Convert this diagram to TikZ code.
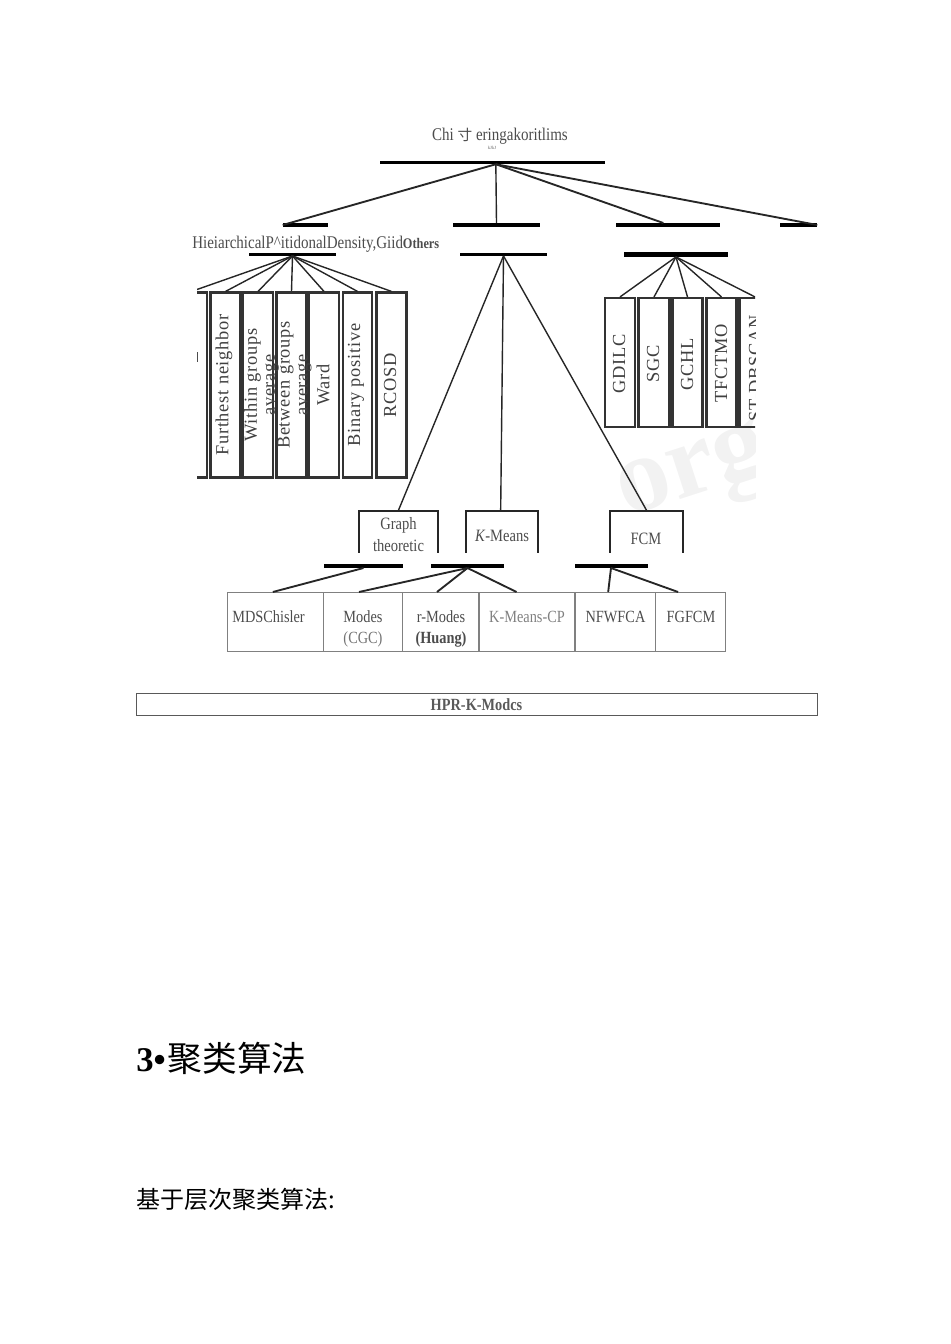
\documentclass[tikz,border=0pt]{standalone}
\usepackage{fontspec}
\setmainfont{Liberation Serif}
\newfontfamily\narrowfont[FakeStretch=0.84]{Liberation Serif}
\newfontfamily\leaffont[LetterSpace=4]{Liberation Serif}
\newfontfamily\cjkfont{Noto Sans CJK SC}
\usetikzlibrary{positioning}
\begin{document}
\begin{tikzpicture}[x=0.75pt,y=-0.75pt,
  bar/.style={fill=black,inner sep=0pt,minimum height=#1},
  bar/.default=2.2pt,
  wide/.style={minimum width=#1*0.75pt},
  tall/.style={minimum height=#1*0.75pt},
  link/.style={line width=1.05pt,color=black!85},
  lowlink/.style={line width=1.4pt,color=black!85},
  leafbox/.style={draw=black!80,line width=1.6pt,inner sep=0pt,tall=185},
  midbox/.style={draw=black!85,line width=1.2pt,inner sep=0pt,tall=80},
  leaftext/.style={rotate=90,font=\leaffont\fontsize{13.8}{13.5}\selectfont,text=black!75,align=center,inner sep=0pt},
  midtext/.style={font=\narrowfont\fontsize{13}{13}\selectfont,text=black!70,inner sep=0pt},
  cell/.style={draw=black!50,line width=0.5pt,inner sep=0pt,minimum height=44.5pt},
  celltext/.style={font=\narrowfont\fontsize{12.8}{13}\selectfont,text=black!70,inner sep=0pt,text height=9pt,text depth=3pt},
  rowtext/.style={font=\narrowfont\fontsize{13.4}{14}\selectfont,text=black!70,inner sep=0pt}]
\useasboundingbox (0,0) rectangle (950,1344);

% heading of the tree
\node[rowtext] (title) at (500,136) {Chi {\cjkfont\fontsize{11}{12}\selectfont 寸} eringakoritlims};
\node[font=\fontsize{3.5}{4}\selectfont,text=black!60,inner sep=0pt] (titlesub) at (492,148) {kJkJ};
\node[bar,wide=225] (algos) at (492.5,162.5) {};

% first row
\node[bar=2.6pt,wide=45] (hier) at (305.5,225) {};
\node[bar=2.6pt,wide=87] (part) at (496.5,225) {};
\node[bar=2.6pt,wide=104] (dens) at (668,225) {};
\node[bar=2.6pt,wide=37] (other) at (798.5,225) {};
\draw[lowlink] ([xshift=2.5pt]algos.south) -- (hier.west);
\draw[link] ([xshift=2.5pt]algos.south) -- (part.north);
\draw[lowlink] ([xshift=2.5pt]algos.south) -- ([xshift=-3.5pt]dens.north);
\draw[lowlink] ([xshift=2.5pt]algos.south) -- (other.east);
\node[rowtext,anchor=west] (rowlabel) at (192,244) {HieiarchicalP\^{}itidonalDensity,Giid{\bfseries\fontsize{11}{12}\selectfont Others}};

% part of the page cut out of the paper
\begin{scope}
\clip (197,252) rectangle (755,552);
\node[rotate=18,font=\bfseries\fontsize{80}{80}\selectfont,text=black!5,inner sep=0pt] (mark) at (695,478) {org};

\node[bar=1.8pt,wide=87] (hierb) at (292.5,254.5) {};
\node[bar=1.8pt,wide=87] (partb) at (503.5,254.5) {};
\node[bar=3.2pt,wide=104] (densb) at (676,254.5) {};

% hierarchical leaves
\node[leafbox,wide=31] (cut) at (191.5,385) {};
\node[leafbox,wide=30] (further) at (225.5,385) {};
\node[leafbox,wide=30] (within) at (258,385) {};
\node[leafbox,wide=30] (between) at (291.5,385) {};
\node[leafbox,wide=30] (ward) at (324,385) {};
\node[leafbox,wide=29] (binary) at (357.5,385) {};
\node[leafbox,wide=30] (rcosd) at (391.5,385) {};
\node[leaftext] (furthertext) at (224,385) {Furthest neighbor};
\node[leaftext] (withintext) at (261.5,385) {Within groups\\average};
\node[leaftext] (betweentext) at (294.5,385) {Between groups\\average};
\node[leaftext] (wardtext) at (323,385) {Ward};
\node[leaftext] (binarytext) at (356,385) {Binary positive};
\node[leaftext] (rcosdtext) at (390,385) {RCOSD};
\draw[thick,black!70] (197.5,352) -- (197.5,362);
\draw[link] (hierb.south) -- (cut.north);
\draw[link] (hierb.south) -- (further.north);
\draw[link] (hierb.south) -- (within.north);
\draw[link] (hierb.south) -- (between.north);
\draw[link] (hierb.south) -- (ward.north);
\draw[link] (hierb.south) -- (binary.north);
\draw[link] (hierb.south) -- (rcosd.north);

% density leaves
\node[leafbox,wide=30,tall=129] (gdilc) at (620,362.5) {};
\node[leafbox,wide=31,tall=129] (sgc) at (654,362.5) {};
\node[leafbox,wide=30,tall=129] (gchl) at (687.5,362.5) {};
\node[leafbox,wide=30,tall=129] (tfctmo) at (721.5,362.5) {};
\node[leafbox,wide=31,tall=129] (stdb) at (755,362.5) {};
\node[leaftext] (gdilctext) at (619,364) {GDILC};
\node[leaftext] (sgctext) at (653,364) {SGC};
\node[leaftext] (gchltext) at (687,364) {GCHL};
\node[leaftext] (tfctmotext) at (721,363) {TFCTMO};
\node[leaftext] (stdbtext) at (755,368) {ST-DBSCAN};
\draw[link] (densb.south) -- (gdilc.north);
\draw[link] (densb.south) -- (sgc.north);
\draw[link] (densb.south) -- (gchl.north);
\draw[link] (densb.south) -- (tfctmo.north);
\draw[link] (densb.south) -- (stdb.north);

% partitional children
\node[midbox,wide=79] (graph) at (398.5,551) {};
\node[midbox,wide=72] (kmeans) at (502,551) {};
\node[midbox,wide=73] (fcm) at (646.5,551) {};
\node[midtext,align=center] (graphtext) at (398.5,534.5) {Graph\\[3.5pt]theoretic};
\node[midtext] (kmeanstext) at (502,536) {\textit{K}-Means};
\node[midtext] (fcmtext) at (646,539) {FCM};
\draw[link] (partb.south) -- (graph.north);
\draw[link] (partb.south) -- ([xshift=-1pt]kmeans.north);
\draw[link] (partb.south) -- (fcm.north);
\end{scope}

% lower bars and table
\node[bar=2.6pt,wide=79] (graphb) at (363.5,566) {};
\node[bar=2.6pt,wide=73] (kmeansb) at (467.5,566) {};
\node[bar=2.6pt,wide=73] (fcmb) at (611,566) {};

\node[cell,wide=96,anchor=north west] (mds) at (226.5,592) {};
\node[cell,wide=79,anchor=north west] (modes) at (322.5,592) {};
\node[cell,wide=76,anchor=north west] (rmodes) at (402,592) {};
\node[cell,wide=95.5,anchor=north west] (kmcp) at (478.5,592) {};
\node[cell,wide=80,anchor=north west] (nfw) at (574.5,592) {};
\node[cell,wide=69.5,anchor=north west] (fgf) at (655,592) {};
\node[celltext,anchor=west] (mdstext) at (232,618) {MDSChisler};
\node[celltext] (modestext) at (363,618) {Modes};
\node[celltext,text=black!55] (cgctext) at (363,639) {(CGC)};
\node[celltext] (rmodestext) at (441,618) {r-Modes};
\node[celltext,font=\narrowfont\bfseries\fontsize{12.8}{13}\selectfont] (huangtext) at (441,639) {(Huang)};
\node[celltext,text=black!50] (kmcptext) at (527,618) {K-Means-CP};
\node[celltext] (nfwtext) at (615.5,618) {NFWFCA};
\node[celltext] (fgftext) at (691,618) {FGFCM};

\draw[lowlink] (graphb.south) -- ([xshift=-1.5pt]mds.north);
\draw[lowlink] (kmeansb.south) -- ([xshift=-2.5pt]modes.north);
\draw[lowlink] (kmeansb.south) -- ([xshift=-2.5pt]rmodes.north);
\draw[lowlink] (kmeansb.south) -- ([xshift=-7.5pt]kmcp.north);
\draw[lowlink] (fcmb.south) -- ([xshift=-5pt]nfw.north);
\draw[lowlink] (fcmb.south) -- ([xshift=-9pt]fgf.north);

\node[draw=black!65,line width=0.7pt,wide=681,minimum height=16pt,inner sep=0pt,font=\narrowfont\bfseries\fontsize{12.8}{13}\selectfont,text=black!65] (hpr) at (476.5,704.5) {HPR-K-Modcs};

% text of the page below
\node[anchor=west,inner sep=0pt,font=\fontsize{26}{28}\selectfont] (heading) at (136,1058) {\textbf{3•}\kern1.5pt{\cjkfont 聚类算法}};
\node[anchor=west,inner sep=0pt,font=\cjkfont\fontsize{18}{20}\selectfont] (subheading) at (136,1199) {基于层次聚类算法:};
\end{tikzpicture}
\end{document}
